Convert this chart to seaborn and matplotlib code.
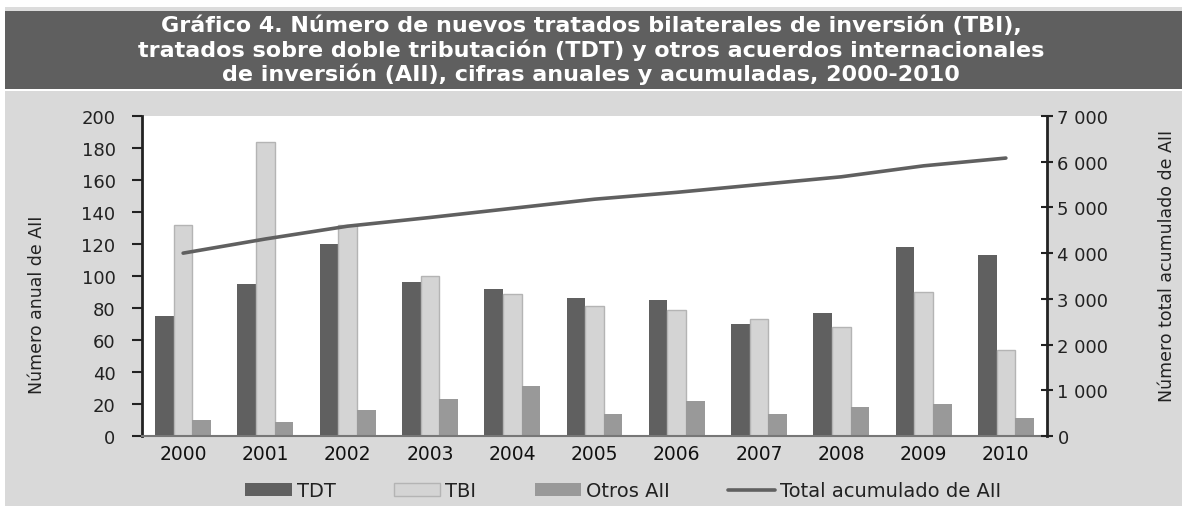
import numpy as np
import pandas as pd
import matplotlib
matplotlib.use("Agg")
import matplotlib.pyplot as plt
from matplotlib.patches import Rectangle, Patch
from matplotlib.lines import Line2D
import seaborn as sns

# ---- data ----
years = ["2000", "2001", "2002", "2003", "2004", "2005", "2006", "2007", "2008", "2009", "2010"]
tdt = [75, 95, 120, 96, 92, 86, 85, 70, 77, 118, 113]
tbi = [132, 184, 132, 100, 89, 81, 79, 73, 68, 90, 54]
otros = [10, 9, 16, 23, 31, 14, 22, 14, 18, 20, 11]
total_acum = [4000, 4310, 4590, 4780, 4980, 5180, 5330, 5500, 5670, 5910, 6080]
series_names = ["TDT", "TBI", "Otros AII"]
line_name = "Total acumulado de AII"
left_ticks = [0, 20, 40, 60, 80, 100, 120, 140, 160, 180, 200]
right_ticks = [0, 1000, 2000, 3000, 4000, 5000, 6000, 7000]
right_ticklabels = ["0", "1 000", "2 000", "3 000", "4 000", "5 000", "6 000", "7 000"]
title_lines = [
    "Gráfico 4. Número de nuevos tratados bilaterales de inversión (TBI),",
    "tratados sobre doble tributación (TDT) y otros acuerdos internacionales",
    "de inversión (AII), cifras anuales y acumuladas, 2000-2010",
]
ylabel_left = "Número anual de AII"
ylabel_right = "Número total acumulado de AII"

df = pd.DataFrame({
    "year": years * 3,
    "value": tdt + tbi + otros,
    "serie": [series_names[0]] * len(years) + [series_names[1]] * len(years) + [series_names[2]] * len(years),
})

sns.set_style("white")
plt.rcParams["font.family"] = ["DejaVu Sans"]

W, H = 1182, 510
fig = plt.figure(figsize=(W / 100, H / 100), dpi=100)
fig.patch.set_facecolor("white")

C_DARK = "#606060"
C_LIGHT = "#d4d4d4"
C_MID = "#999999"
BG = "#d9d9d9"

# background panels
fig.add_artist(Rectangle((5 / W, 3 / H), 1 - 5 / W, (H - 92 - 3) / H, transform=fig.transFigure,
                         facecolor=BG, edgecolor="none", zorder=-10))
fig.add_artist(Rectangle((5 / W, (H - 90) / H), 1 - 5 / W, 78 / H, transform=fig.transFigure,
                         facecolor="#5f5f5f", edgecolor="none", zorder=-10))
fig.add_artist(Rectangle((5 / W, (H - 12) / H), 1 - 5 / W, 4 / H, transform=fig.transFigure,
                         facecolor="#dcdcdc", edgecolor="none", zorder=-10))

for txt, yc in zip(title_lines, [26, 50, 74]):
    fig.text(0.5, 1 - yc / H, txt, ha="center", va="center", color="white",
             fontsize=16, fontweight="bold")

left_px, right_px, top_px, bot_px = 142, 1047, 117, 437
ax = fig.add_axes([left_px / W, 1 - bot_px / H, (right_px - left_px) / W, (bot_px - top_px) / H])
ax.set_facecolor("white")

sns.barplot(data=df, x="year", y="value", hue="serie", hue_order=series_names,
            palette=[C_DARK, C_LIGHT, C_MID], width=0.68, gap=0, saturation=1,
            ax=ax, legend=False, linewidth=0)
for p in ax.containers[1]:
    p.set_edgecolor("#b4b4b4")
    p.set_linewidth(1.0)

ax2 = ax.twinx()
sns.lineplot(x=np.arange(len(years)), y=total_acum, ax=ax2, color=C_DARK, linewidth=2.6,
             legend=False)

ax.set_xlim(-0.5, len(years) - 0.5)
ax.set_ylim(0, 200)
ax2.set_ylim(0, 7000)

ax.set_yticks(left_ticks)
ax.set_yticklabels([str(v) for v in left_ticks])
ax2.set_yticks(right_ticks)
ax2.set_yticklabels(right_ticklabels)

ax.set_xlabel("")
ax.set_ylabel("")
ax2.set_ylabel("")
ax.set_xticks(range(len(years)))
ax.set_xticklabels(years)
ax.set_xticks(np.arange(-0.5, len(years), 1), minor=True)

ax.tick_params(axis="x", which="major", length=0, pad=6, labelsize=13.5, labelcolor="#111111")
ax.tick_params(axis="x", which="minor", length=6, width=1.2, color="#666666", direction="out")
ax.tick_params(axis="y", which="major", length=7, width=1.5, color="#222222", direction="out",
               pad=12, labelsize=13, labelcolor="#222222")
ax2.tick_params(axis="y", which="major", length=9, width=1.5, color="#222222", direction="inout",
                pad=3, labelsize=13, labelcolor="#222222")

for s in ["top", "right"]:
    ax.spines[s].set_visible(False)
ax.spines["left"].set_color("#222222")
ax.spines["left"].set_linewidth(2)
ax.spines["bottom"].set_color("#777777")
ax.spines["bottom"].set_linewidth(1.5)
for s in ["top", "left", "bottom"]:
    ax2.spines[s].set_visible(False)
ax2.spines["right"].set_color("#222222")
ax2.spines["right"].set_linewidth(2)

fig.text(37 / W, 1 - 305 / H, ylabel_left, rotation=90, ha="center", va="center",
         fontsize=12.5, color="#222222")
fig.text(1167 / W, 1 - 266 / H, ylabel_right, rotation=90, ha="center", va="center",
         fontsize=12.5, color="#222222")

handles = [
    Patch(facecolor=C_DARK, edgecolor="none"),
    Patch(facecolor=C_LIGHT, edgecolor="#b4b4b4"),
    Patch(facecolor=C_MID, edgecolor="none"),
    Line2D([0], [0], color=C_DARK, linewidth=2.6),
]
fig.legend(handles, series_names + [line_name], loc="center", bbox_to_anchor=(623 / W, 1 - 492 / H),
           ncol=4, frameon=False, fontsize=14, handlelength=2.4, handleheight=0.6,
           handletextpad=0.25, columnspacing=3.0, labelcolor="#222222")

fig.savefig("out.png", dpi=100, facecolor=fig.get_facecolor())
